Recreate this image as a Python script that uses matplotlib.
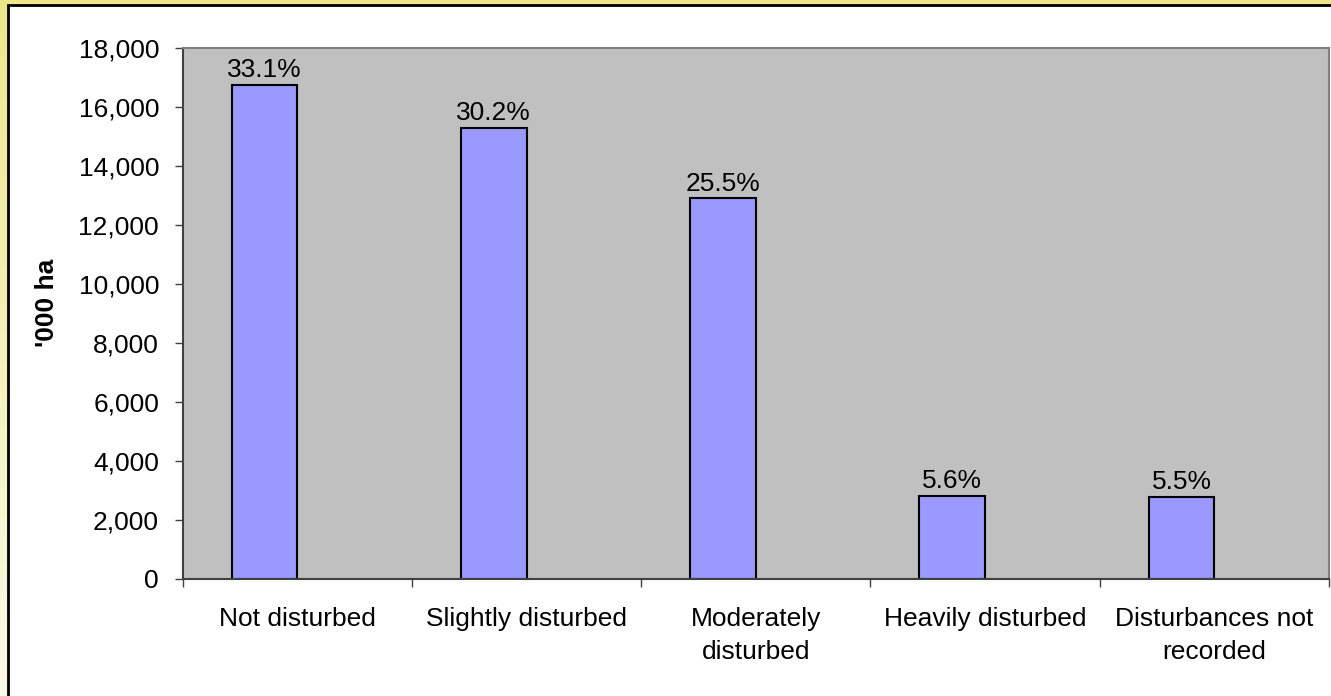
import matplotlib.pyplot as plt
import numpy as np
from matplotlib.patches import Rectangle
from matplotlib.colors import LinearSegmentedColormap

# categories and values ('000 ha) with share labels
categories = ['Not disturbed', 'Slightly disturbed', 'Moderately\ndisturbed',
              'Heavily disturbed', 'Disturbances not\nrecorded']
area = [16750, 15280, 12900, 2830, 2780]
shares = ['33.1%', '30.2%', '25.5%', '5.6%', '5.5%']

plt.rcParams['font.family'] = ['Liberation Sans', 'DejaVu Sans']
fs = 19

fig = plt.figure(figsize=(13.31, 6.96), dpi=100)

# yellow gradient background behind the chart panel
bg = fig.add_axes([0, 0, 1, 1], zorder=-20)
bg.axis('off')
cmap = LinearSegmentedColormap.from_list('frame', ['#FBFBEA', '#EEE68C'])
bg.imshow(np.linspace(0, 1, 256).reshape(-1, 1), cmap=cmap, aspect='auto',
          origin='lower', extent=[0, 1, 0, 1])
# white chart panel with black border
bg.add_patch(Rectangle((8 / 1331, -0.2), 1.2, 1.2 - 5 / 696,
                       transform=fig.transFigure, facecolor='white',
                       edgecolor='black', linewidth=2, zorder=5))

ax = fig.add_axes([182.7 / 1331, 1 - 579 / 696, (1329 - 182.7) / 1331, (579 - 48) / 696])
ax.set_facecolor('#C0C0C0')

x = np.arange(len(categories))
w = 0.287
bars = ax.bar(x - w / 2, area, width=w, color='#9999FF', edgecolor='black', linewidth=1.5)
for b, s in zip(bars, shares):
    ax.annotate(s, (b.get_x() + b.get_width() / 2, b.get_height()),
                xytext=(0, 2), textcoords='offset points',
                ha='center', va='bottom', fontsize=fs)

ax.set_xlim(-0.5, len(categories) - 0.5)
ax.set_ylim(0, 18000)
ax.set_yticks(np.arange(0, 18001, 2000))
ax.set_yticklabels([f'{v:,}' for v in range(0, 18001, 2000)], fontsize=fs)
ax.tick_params(axis='y', length=6, width=1, color='#404040', pad=11)

ax.set_xticks(x)
ax.set_xticklabels(categories, fontsize=fs, linespacing=1.5)
ax.set_xticks(np.arange(-0.5, len(categories), 1), minor=True)
ax.tick_params(axis='x', which='major', length=0, pad=20)
ax.tick_params(axis='x', which='minor', length=6, width=1, color='#404040', direction='out')

ax.set_ylabel("'000 ha", fontsize=fs, fontweight='bold')
ax.yaxis.set_label_coords(-0.108, 0.52)

for side in ['left', 'bottom']:
    ax.spines[side].set_color('#404040')
    ax.spines[side].set_linewidth(1.5)
for side in ['top', 'right']:
    ax.spines[side].set_color('#808080')
    ax.spines[side].set_linewidth(1.5)

fig.savefig('out.png', dpi=100)
